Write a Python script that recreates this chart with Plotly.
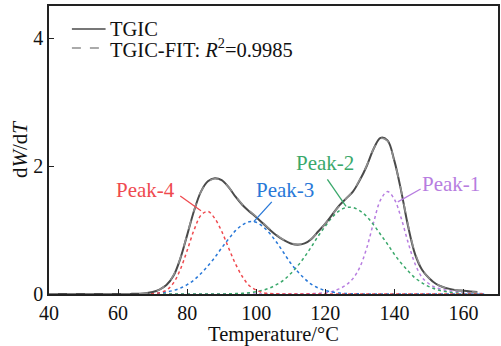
import plotly.graph_objects as go

# Temperature grid (°C)
temperature = [40, 42, 44, 46, 48, 50, 52, 54, 56, 58, 60, 62,
               64, 66, 68, 70, 72, 74, 76, 78, 80, 82, 84, 86, 88, 90,
               92, 94, 96, 98, 100, 102, 104, 106, 108, 110, 112, 114, 116, 118,
               120, 122, 124, 126, 128, 130, 132, 134, 136, 138, 140, 142, 144, 146,
               148, 150, 152, 154, 156, 158, 160, 162, 164]

tgic = [0, 0, 0, 0, 0, 0, 0, 0, 0, 0, 0, 0,
        0.002, 0.005, 0.012, 0.03, 0.07, 0.14, 0.28, 0.55, 0.92, 1.30, 1.60, 1.76, 1.81, 1.78,
        1.67, 1.52, 1.39, 1.29, 1.20, 1.10, 1.00, 0.91, 0.84, 0.79, 0.77, 0.79, 0.86, 0.98,
        1.10, 1.24, 1.38, 1.49, 1.60, 1.78, 2.00, 2.27, 2.44, 2.40, 2.08, 1.60, 1.05, 0.62,
        0.38, 0.25, 0.16, 0.11, 0.08, 0.06, 0.05, 0.04, 0.03]

tgic_fit = [0, 0, 0, 0, 0, 0, 0, 0, 0, 0, 0, 0,
            0.001, 0.004, 0.011, 0.028, 0.068, 0.145, 0.29, 0.56, 0.93, 1.31, 1.60, 1.75, 1.80, 1.77,
            1.67, 1.53, 1.40, 1.30, 1.21, 1.11, 1.01, 0.92, 0.845, 0.795, 0.775, 0.795, 0.865, 0.975,
            1.10, 1.24, 1.37, 1.49, 1.61, 1.79, 2.01, 2.27, 2.43, 2.39, 2.07, 1.61, 1.07, 0.64,
            0.39, 0.25, 0.16, 0.11, 0.08, 0.06, 0.045, 0.035, 0.025]

peak_temp = [40, 42, 44, 46, 48, 50, 52, 54, 56, 58, 60, 62,
             64, 66, 68, 70, 72, 74, 76, 78, 80, 82, 84, 86, 88, 90,
             92, 94, 96, 98, 100, 102, 104, 106, 108, 110, 112, 114, 116, 118,
             120, 122, 124, 126, 128, 130, 132, 134, 136, 138, 140, 142, 144, 146,
             148, 150, 152, 154, 156, 158, 160, 162, 164, 166]

peak4 = [0, 0, 0, 0, 0, 0, 0, 0, 0, 0, 0, 0,
         0, 0, 0.002, 0.006, 0.02, 0.06, 0.17, 0.38, 0.68, 1.00, 1.23, 1.29, 1.18, 0.98,
         0.72, 0.47, 0.27, 0.13, 0.06, 0.02, 0.007, 0.002, 0, 0, 0, 0, 0, 0,
         0, 0, 0, 0, 0, 0, 0, 0, 0, 0, 0, 0, 0, 0,
         0, 0, 0, 0, 0, 0, 0, 0, 0, 0]

peak3 = [0, 0, 0, 0, 0, 0, 0, 0, 0, 0, 0, 0,
         0.001, 0.002, 0.005, 0.009, 0.017, 0.031, 0.055, 0.091, 0.145, 0.22, 0.32, 0.44, 0.57, 0.72,
         0.86, 0.99, 1.08, 1.13, 1.12, 1.05, 0.94, 0.80, 0.64, 0.48, 0.35, 0.24, 0.15, 0.093,
         0.054, 0.030, 0.015, 0.008, 0.004, 0.002, 0, 0, 0, 0, 0, 0, 0, 0,
         0, 0, 0, 0, 0, 0, 0, 0, 0, 0]

peak2 = [0, 0, 0, 0, 0, 0, 0, 0, 0, 0, 0, 0,
         0, 0, 0, 0, 0, 0, 0, 0, 0, 0, 0, 0, 0.001, 0.001,
         0.003, 0.006, 0.011, 0.020, 0.035, 0.060, 0.096, 0.15, 0.22, 0.32, 0.44, 0.58, 0.74, 0.91,
         1.06, 1.20, 1.30, 1.35, 1.35, 1.30, 1.21, 1.08, 0.93, 0.78, 0.62, 0.48, 0.36, 0.25,
         0.175, 0.116, 0.074, 0.046, 0.027, 0.016, 0.009, 0.005, 0.003, 0.001]

peak1 = [0, 0, 0, 0, 0, 0, 0, 0, 0, 0, 0, 0,
         0, 0, 0, 0, 0, 0, 0, 0, 0, 0, 0, 0, 0, 0,
         0, 0, 0, 0, 0, 0, 0, 0, 0, 0, 0, 0.002, 0.005, 0.01,
         0.02, 0.04, 0.08, 0.14, 0.24, 0.42, 0.72, 1.12, 1.47, 1.60, 1.48, 1.18, 0.80, 0.47,
         0.26, 0.16, 0.10, 0.07, 0.05, 0.035, 0.025, 0.015, 0.01, 0.005]

peak_names = ["Peak-1", "Peak-2", "Peak-3", "Peak-4"]
peak_colors = ["#b77de0", "#3aa86b", "#2878d8", "#ef4a4f"]

legend_names = ["TGIC", "TGIC-FIT: <i>R</i><sup>2</sup>=0.9985"]

x_ticks = [40, 60, 80, 100, 120, 140, 160]
y_ticks = [0, 2, 4]

FONT = "'Liberation Serif', 'Times New Roman', Times, serif"
LINE_DARK = "#4a4a4a"
LINE_FIT = "#8f8f8f"

fig = go.Figure()

for name, vals, col in zip(peak_names, [peak1, peak2, peak3, peak4], peak_colors):
    fig.add_trace(go.Scatter(x=peak_temp, y=vals, mode="lines", name=name,
                             line=dict(color=col, width=1.5, dash="dot", shape="spline"),
                             showlegend=False))

fig.add_trace(go.Scatter(x=temperature, y=tgic, mode="lines", name="TGIC",
                         line=dict(color=LINE_DARK, width=2, shape="spline"),
                         showlegend=False))
fig.add_trace(go.Scatter(x=temperature, y=tgic_fit, mode="lines",
                         name="TGIC-FIT",
                         line=dict(color=LINE_FIT, width=1.6, dash="dash", shape="spline"),
                         showlegend=False))

# legend drawn as line samples + text (compact row spacing as in the reference)
legend_rows = [(0.920, LINE_DARK, "solid", 1.4), (0.854, LINE_FIT, "dash", 1.4)]
for (yy, col, dash, w), txt in zip(legend_rows, legend_names):
    fig.add_shape(type="line", xref="paper", yref="paper", x0=0.051, x1=0.126,
                  y0=yy, y1=yy, line=dict(color=col, width=w, dash=dash))
    fig.add_annotation(xref="paper", yref="paper", x=0.131, y=yy, xanchor="left",
                       yanchor="middle", text=txt, showarrow=False,
                       font=dict(family=FONT, size=20.5, color="#111111"))

# peak labels with leader lines
labels = [
    ("Peak-4", peak_colors[3], 68.0, 1.625, 78.0, 1.53, 84.0, 1.30),
    ("Peak-3", peak_colors[2], 108.2, 1.625, 104.5, 1.44, 99.3, 1.13),
    ("Peak-2", peak_colors[1], 120.0, 2.05, 120.6, 1.79, 126.0, 1.37),
    ("Peak-1", peak_colors[0], 156.5, 1.72, 147.6, 1.64, 141.0, 1.44),
]
for text, col, tx, ty, lx0, ly0, lx1, ly1 in labels:
    fig.add_annotation(x=tx, y=ty, text=text, showarrow=False,
                       font=dict(family=FONT, size=21, color=col))
    fig.add_shape(type="line", xref="x", yref="y", x0=lx0, y0=ly0, x1=lx1, y1=ly1,
                  line=dict(color=col, width=1.3))

fig.update_layout(
    width=501, height=346,
    margin=dict(l=49, r=1, t=6, b=52),
    paper_bgcolor="white", plot_bgcolor="white",
    font=dict(family=FONT, size=21, color="#111111"),
    showlegend=False,
)
fig.update_xaxes(range=[40, 170], tickvals=x_ticks, ticks="inside", ticklen=5,
                 tickcolor="#222", showline=True, linecolor="#222", linewidth=1.5,
                 mirror=True, showgrid=False, zeroline=False,
                 tickfont=dict(family=FONT, size=20),
                 title=dict(text="Temperature/°C", standoff=3,
                            font=dict(family=FONT, size=20.5)))
fig.update_yaxes(range=[0, 4.5], tickvals=y_ticks, ticks="inside", ticklen=5,
                 tickcolor="#222", showline=True, linecolor="#222", linewidth=1.5,
                 mirror=True, showgrid=False, zeroline=False,
                 tickfont=dict(family=FONT, size=20),
                 title=dict(text="d<i>W</i>/d<i>T</i>", standoff=0,
                            font=dict(family=FONT, size=21)))

fig.write_html("out.html")
